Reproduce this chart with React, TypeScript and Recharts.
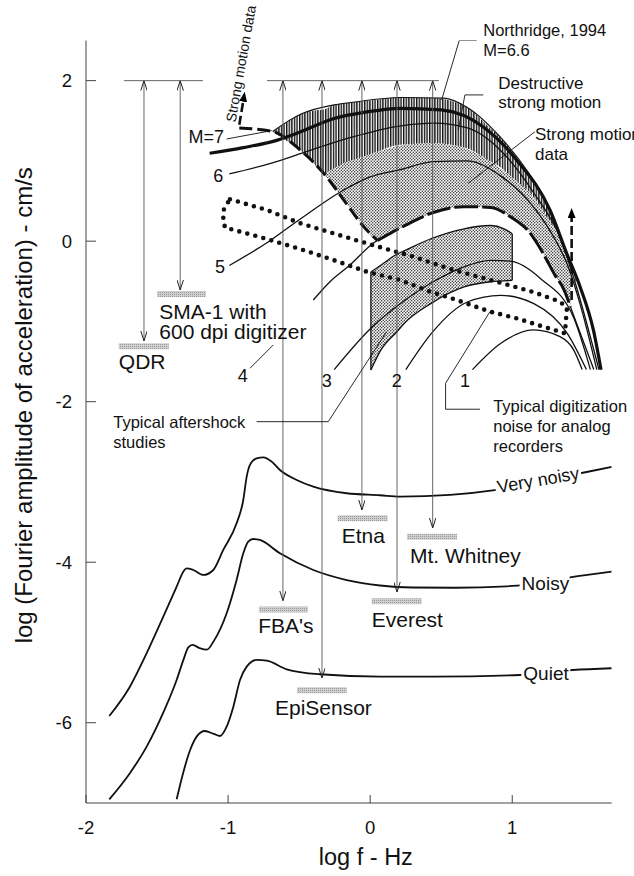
import React from 'react';
import { ComposedChart, Line, Area, XAxis, YAxis, ReferenceDot, ReferenceArea } from 'recharts';

type P = [number, number];
type B = [number, number, number];
const FONT = '"Liberation Sans", Arial, Helvetica, sans-serif';

const xTicks = [-2, -1, 0, 1];
const yTicks = [-6, -4, -2, 0, 2];

// ambient noise spectra
const veryNoisyCurve: P[] = [
  [-1.836, -5.916], [-1.691, -5.551], [-1.573, -5.134], [-1.456, -4.679], [-1.362, -4.305], [-1.315, -4.118],
  [-1.292, -4.076], [-1.245, -4.097], [-1.175, -4.159], [-1.104, -4.097], [-1.034, -3.847], [-0.94, -3.515],
  [-0.893, -3.225], [-0.869, -2.934], [-0.846, -2.788], [-0.799, -2.705], [-0.752, -2.693], [-0.693, -2.747],
  [-0.635, -2.851], [-0.517, -2.976], [-0.4, -3.059], [-0.165, -3.141], [0.069, -3.166], [0.21, -3.183],
  [0.562, -3.162], [0.89, -3.1], [1.195, -3.0], [1.524, -2.876], [1.7, -2.813],
];
const noisyCurve: P[] = [
  [-1.836, -6.954], [-1.7, -6.65], [-1.573, -6.298], [-1.45, -5.85], [-1.362, -5.467], [-1.315, -5.22],
  [-1.28, -5.06], [-1.25, -5.03], [-1.2, -5.07], [-1.15, -5.09], [-1.1, -4.98], [-1.01, -4.636],
  [-0.94, -4.221], [-0.893, -3.889], [-0.858, -3.744], [-0.823, -3.711], [-0.776, -3.723], [-0.635, -3.889],
  [-0.4, -4.097], [-0.165, -4.222], [0.069, -4.29], [0.3, -4.315], [0.6, -4.318], [0.96, -4.3],
  [1.2, -4.26], [1.406, -4.19], [1.7, -4.118],
];
const quietCurve: P[] = [
  [-1.362, -6.954], [-1.32, -6.65], [-1.267, -6.34], [-1.22, -6.17], [-1.163, -6.103], [-1.1, -6.14],
  [-1.057, -6.165], [-1.01, -6.049], [-0.963, -5.8], [-0.916, -5.467], [-0.869, -5.301], [-0.799, -5.218],
  [-0.728, -5.227], [-0.588, -5.334], [-0.353, -5.396], [0.069, -5.426], [0.444, -5.426], [1.054, -5.405],
  [1.427, -5.343], [1.7, -5.321],
];

// earthquake spectra
const m7Curve: P[] = [
  [-1.13, 1.095], [-0.893, 1.165], [-0.658, 1.256], [-0.494, 1.36], [-0.26, 1.526], [-0.025, 1.61],
  [0.216, 1.655], [0.5, 1.635], [0.801, 1.417], [1.035, 1.003], [1.267, 0.382], [1.384, -0.156],
  [1.478, -0.57], [1.571, -1.106], [1.625, -1.603],
];
const northridgeCurve: P[] = [
  [-0.686, 1.366], [-0.487, 1.583], [-0.253, 1.698], [-0.136, 1.727], [0.216, 1.79], [0.52, 1.782],
  [0.684, 1.665], [0.918, 1.292], [1.105, 0.878], [1.246, 0.464], [1.34, 0.06],
];
const m6Curve: P[] = [
  [-0.991, 0.837], [-0.7, 0.97], [-0.464, 1.106], [-0.136, 1.293], [0.216, 1.437], [0.45, 1.47],
  [0.684, 1.41], [0.918, 1.13], [1.152, 0.6], [1.34, 0.03], [1.44, -0.5], [1.61, -1.6],
];
const m5Curve: P[] = [
  [-0.991, -0.303], [-0.721, -0.013], [-0.487, 0.282], [-0.183, 0.64], [0.0, 0.8], [0.21, 0.89],
  [0.444, 0.99], [0.679, 1.0], [0.913, 0.82], [1.148, 0.43], [1.289, 0.06], [1.39, -0.3], [1.48, -0.8],
  [1.595, -1.6],
];
const m4CurveStart: P[] = [[-0.4, -0.733], [-0.283, -0.505], [-0.142, -0.297], [0.022, -0.026], [0.052, 0.009]];
const m4CurveDashed: P[] = [
  [0.052, 0.009], [0.25, 0.2], [0.45, 0.36], [0.66, 0.43], [0.85, 0.42], [0.99, 0.3], [1.13, 0.09],
  [1.2, -0.1], [1.3, -0.42], [1.363, -0.6], [1.41, -0.82],
];
const m4CurveTail: P[] = [[1.41, -0.82], [1.49, -1.2], [1.574, -1.6]];
const m3Curve: P[] = [
  [-0.253, -1.6], [0.005, -1.085], [0.216, -0.774], [0.45, -0.5], [0.661, -0.32], [0.848, -0.24],
  [0.988, -0.25], [1.2, -0.467], [1.434, -0.96], [1.55, -1.6],
];
const m2Curve: P[] = [
  [0.251, -1.6], [0.44, -1.13], [0.684, -0.758], [0.918, -0.675], [1.152, -0.778], [1.387, -1.15], [1.522, -1.6],
];
const m1Curve: P[] = [[0.72, -1.6], [0.918, -1.275], [1.148, -1.106], [1.336, -1.19], [1.434, -1.36], [1.492, -1.6]];
const strongMotionEdge: P[] = [
  [-0.921, 1.41], [-0.686, 1.366], [-0.487, 1.127], [-0.323, 0.837], [-0.183, 0.506], [-0.042, 0.174], [0.052, 0.009],
];

// shaded regions: [x, low, high]
const destructiveBand: B[] = [
  [-0.686, 1.366, 1.366], [-0.6, 1.263, 1.46], [-0.487, 1.127, 1.583], [-0.4, 0.973, 1.626], [-0.323, 0.84, 1.64],
  [-0.253, 0.908, 1.698], [-0.136, 1.0, 1.727], [0, 1.08, 1.751], [0.21, 1.2, 1.79], [0.445, 1.22, 1.784],
  [0.679, 1.157, 1.67], [0.85, 0.99, 1.4], [0.913, 0.928, 1.31], [1.0, 0.79, 1.11], [1.148, 0.554, 0.75],
  [1.246, 0.29, 0.464], [1.336, 0.05, 0.08], [1.41, -0.3, -0.27], [1.45, -0.52, -0.49],
];
const strongMotionBand: B[] = [
  [-0.323, 0.837, 0.84], [-0.25, 0.664, 0.911], [-0.183, 0.506, 0.977], [-0.1, 0.311, 1.02], [-0.042, 0.174, 1.055],
  [0.052, 0.009, 1.11], [0.25, 0.2, 1.203], [0.45, 0.36, 1.22], [0.66, 0.43, 1.162], [0.85, 0.42, 0.99],
  [0.99, 0.3, 0.805], [1.13, 0.09, 0.583], [1.2, -0.1, 0.415], [1.3, -0.42, 0.147], [1.363, -0.6, -0.078],
  [1.41, -0.82, -0.3],
];
const aftershockBand: B[] = [
  [0.005, -1.606, -0.385], [0.075, -1.358, -0.3], [0.193, -1.119, -0.157], [0.239, -1.026, -0.12],
  [0.427, -0.778, 0.03], [0.661, -0.571, 0.154], [0.848, -0.506, 0.195], [0.942, -0.495, 0.154], [1.0, -0.488, 0.092],
];

const digitizationNoiseLoop: P[] = [
  [-0.987, 0.522], [-0.728, 0.389], [-0.494, 0.224], [-0.26, 0.098], [-0.025, -0.027], [0.304, -0.193],
  [0.585, -0.359], [0.89, -0.505], [1.148, -0.633], [1.336, -0.754], [1.385, -0.832], [1.378, -0.982],
  [1.371, -1.148], [1.218, -1.065], [1.031, -0.961], [0.843, -0.878], [0.609, -0.733], [0.421, -0.629],
  [0.21, -0.483], [-0.025, -0.38], [-0.26, -0.234], [-0.494, -0.097], [-0.728, 0.027], [-0.975, 0.148],
  [-1.022, 0.168], [-1.034, 0.285], [-1.029, 0.401], [-0.987, 0.522],
];

const strongMotionArrows: P[][] = [
  [[-0.921, 1.45], [-0.893, 1.75]],
  [[1.418, -0.733], [1.418, 0.3]],
];

// instruments: clip level 2, arrow tip, noise bar [x1, x2, y]
const clipLevel = 2;
const clipLevelSpans: P[] = [[-1.733, -1.177], [-0.726, 0.484]];
const instruments = [
  { name: 'QDR', x: -1.592, tip: -1.243, bar: [-1.769, -1.417, -1.31] },
  { name: 'SMA-1', x: -1.337, tip: -0.608, bar: [-1.5, -1.156, -0.658] },
  { name: "FBA's", x: -0.614, tip: -4.479, bar: [-0.783, -0.438, -4.59] },
  { name: 'EpiSensor', x: -0.339, tip: -5.442, bar: [-0.515, -0.165, -5.596] },
  { name: 'Etna', x: -0.058, tip: -3.349, bar: [-0.229, 0.123, -3.453] },
  { name: 'Everest', x: 0.189, tip: -4.371, bar: [0.011, 0.362, -4.487] },
  { name: 'Mt. Whitney', x: 0.44, tip: -3.573, bar: [0.259, 0.611, -3.682] },
];
const barHalfHeight = 0.037;

const leaderLines: P[][] = [
  [[-1.01, 1.273], [-0.693, 1.377]],
  [[-0.846, -1.584], [-0.682, -1.293]],
  [[0.75, 2.5], [0.627, 2.5], [0.503, 1.759]],
  [[0.796, 1.822], [0.667, 1.822], [0.62, 1.386]],
  [[1.16, 1.364], [0.69, 0.721]],
  [[-0.799, -2.249], [-0.295, -2.249], [0.116, -1.128]],
  [[0.773, -2.094], [0.531, -2.094], [0.531, -1.77], [0.843, -0.878]],
];

type TL = { lines: string[]; x: number; y: number; size: number; anchor?: string; rotate?: number; bg?: number; lh?: number };
const textLabels: TL[] = [
  { lines: ['QDR'], x: -1.769, y: -1.596, size: 21 },
  { lines: ['SMA-1 with', '600 dpi digitizer'], x: -1.484, y: -0.973, size: 21, lh: 20 },
  { lines: ["FBA's"], x: -0.788, y: -4.885, size: 21 },
  { lines: ['EpiSensor'], x: -0.67, y: -5.903, size: 21 },
  { lines: ['Etna'], x: -0.2, y: -3.764, size: 21 },
  { lines: ['Mt. Whitney'], x: 0.28, y: -4.013, size: 21 },
  { lines: ['Everest'], x: 0.011, y: -4.803, size: 21 },
  { lines: ['Typical aftershock', 'studies'], x: -1.808, y: -2.322, size: 16.5, lh: 20 },
  { lines: ['Typical digitization', 'noise for analog', 'recorders'], x: 0.866, y: -2.128, size: 16.5, lh: 20 },
  { lines: ['Northridge, 1994', 'M=6.6'], x: 0.796, y: 2.552, size: 16.5, lh: 20 },
  { lines: ['Destructive', 'strong motion'], x: 0.902, y: 1.893, size: 17, lh: 19 },
  { lines: ['Strong motion', 'data'], x: 1.16, y: 1.261, size: 17, lh: 20 },
  { lines: ['M=7'], x: -1.029, y: 1.22, size: 18, anchor: 'end' },
  { lines: ['6'], x: -1.069, y: 0.741, size: 18, anchor: 'middle' },
  { lines: ['5'], x: -1.057, y: -0.392, size: 18, anchor: 'middle' },
  { lines: ['4'], x: -0.897, y: -1.75, size: 18, anchor: 'middle' },
  { lines: ['3'], x: -0.306, y: -1.813, size: 18, anchor: 'middle' },
  { lines: ['2'], x: 0.187, y: -1.813, size: 18, anchor: 'middle' },
  { lines: ['1'], x: 0.667, y: -1.813, size: 18, anchor: 'middle' },
  { lines: ['Strong motion data'], x: -0.948, y: 1.475, size: 14, rotate: -80 },
  { lines: ['Very noisy'], x: 0.902, y: -3.141, size: 18, rotate: -10, bg: 87 },
  { lines: ['Noisy'], x: 1.066, y: -4.346, size: 19, bg: 50 },
  { lines: ['Quiet'], x: 1.078, y: -5.467, size: 19, bg: 49 },
];

const toRows = (pts: P[]) => pts.map(([x, y]) => ({ x, y }));
const bandRows = (b: B[]) => b.map(([x, lo, hi]) => ({ x, v: [lo, hi] }));

const common = { dot: false, activeDot: false, isAnimationActive: false, legendType: 'none' as const };

function curve(key: string, pts: P[], o: any = {}) {
  return (
    <Line
      key={key}
      data={toRows(pts)}
      dataKey="y"
      type={o.type ?? 'monotone'}
      stroke={o.stroke ?? '#111'}
      strokeWidth={o.w ?? 1.3}
      strokeDasharray={o.dash}
      strokeLinecap={o.cap}
      markerStart={o.ms}
      markerEnd={o.me}
      {...common}
    />
  );
}

const XTick = (p: any) => (
  <g>
    <line x1={p.x} x2={p.x} y1={p.y - 17.5} y2={p.y - 25.5} stroke="#444" strokeWidth={1} />
    <text x={p.x} y={p.y} dy="0.71em" textAnchor="middle" fontFamily={FONT} fontSize={18.5} fill="#111">
      {p.payload.value}
    </text>
  </g>
);
const YTick = (p: any) => (
  <g>
    <line x1={p.x + 14} x2={p.x + 24} y1={p.y} y2={p.y} stroke="#444" strokeWidth={1} />
    <text x={p.x} y={p.y} dy="0.36em" textAnchor="end" fontFamily={FONT} fontSize={18.5} fill="#111">
      {p.payload.value}
    </text>
  </g>
);

function TextMark({ cx, cy, s }: { cx: number; cy: number; s: TL }) {
  const lh = s.lh ?? 20;
  return (
    <g transform={`translate(${cx},${cy}) rotate(${s.rotate ?? 0})`}>
      {s.bg ? <rect x={-2} y={-s.size * 0.8} width={s.bg} height={s.size * 1.05} fill="#fff" /> : null}
      <text fontFamily={FONT} fontSize={s.size} fill="#111" textAnchor={(s.anchor as any) ?? 'start'}>
        {s.lines.map((t, i) => (
          <tspan key={i} x={0} y={i * lh}>
            {t}
          </tspan>
        ))}
      </text>
    </g>
  );
}

const yTitle = (p: any) => {
  const vb = p.viewBox || { x: 26, y: 40.5, width: 60, height: 762.5 };
  const cx = vb.x + 5.5;
  const cy = vb.y + vb.height / 2 - 16.5;
  return (
    <text x={cx} y={cy} transform={`rotate(-90 ${cx} ${cy})`} textAnchor="middle" fontFamily={FONT} fontSize={24} fill="#111">
      log (Fourier amplitude of acceleration) - cm/s
    </text>
  );
};
const xTitle = (p: any) => {
  const vb = p.viewBox || { x: 86, y: 803, width: 525.7, height: 30 };
  return (
    <text x={vb.x + vb.width / 2 + 17} y={vb.y + 62} textAnchor="middle" fontFamily={FONT} fontSize={23.5} fill="#111">
      log f - Hz
    </text>
  );
};

export default function App() {
  const bandTop = (b: B[]) => b.map(([x, , hi]) => [x, hi] as P);
  const bandBottom = (b: B[]) => b.map(([x, lo]) => [x, lo] as P);
  const a0 = aftershockBand[0];
  const aN = aftershockBand[aftershockBand.length - 1];
  return (
    <div style={{ position: 'absolute', left: 0, top: 0, width: 634, height: 876, background: '#fff' }}>
      <ComposedChart width={634} height={876} margin={{ top: 40.5, right: 22.3, bottom: 43, left: 26 }}>
        <defs>
          <pattern id="hatchPat" patternUnits="userSpaceOnUse" width="2.6" height="6">
            <rect x="0" y="0" width="2.6" height="6" fill="#fff" />
            <rect x="0" y="0" width="1.4" height="6" fill="#111" />
          </pattern>
          <pattern id="stipPat" patternUnits="userSpaceOnUse" width="3" height="3">
            <rect width="3" height="3" fill="#fff" />
            <circle cx="0.75" cy="0.75" r="0.72" fill="#222" />
            <circle cx="2.25" cy="2.25" r="0.72" fill="#222" />
          </pattern>
          <pattern id="barPat" patternUnits="userSpaceOnUse" width="2" height="2">
            <rect width="2" height="2" fill="#cfcfcf" />
            <rect width="1" height="1" fill="#9a9a9a" />
          </pattern>
          <marker id="openArrow" viewBox="0 0 10 7" refX="10" refY="3.5" markerWidth="10" markerHeight="7" markerUnits="userSpaceOnUse" orient="auto-start-reverse">
            <path d="M0,0.3 L10,3.5 L0,6.7" fill="none" stroke="#222" strokeWidth="1" />
          </marker>
          <marker id="solidArrow" viewBox="0 0 10 8" refX="1" refY="4" markerWidth="10" markerHeight="8" markerUnits="userSpaceOnUse" orient="auto">
            <path d="M0,0 L10,4 L0,8 Z" fill="#000" />
          </marker>
        </defs>
        <XAxis
          type="number"
          dataKey="x"
          domain={[-2, 1.7]}
          ticks={xTicks}
          interval={0}
          allowDataOverflow
          tickSize={0}
          tickMargin={17.5}
          tick={<XTick />}
          height={30}
          stroke="#444"
          label={xTitle}
        />
        <YAxis
          type="number"
          domain={[-7, 2.5]}
          ticks={yTicks}
          interval={0}
          allowDataOverflow
          tickSize={0}
          tickMargin={14}
          tick={<YTick />}
          width={60}
          stroke="#444"
          label={yTitle}
        />

        <Area data={bandRows(destructiveBand)} dataKey="v" type="monotone" fill="url(#hatchPat)" fillOpacity={1} stroke="none" {...common} />
        <Area data={bandRows(strongMotionBand)} dataKey="v" type="monotone" fill="url(#stipPat)" fillOpacity={1} stroke="none" {...common} />
        <Area data={bandRows(aftershockBand)} dataKey="v" type="monotone" fill="url(#stipPat)" fillOpacity={1} stroke="none" {...common} />

        {curve('aTop', bandTop(aftershockBand), { w: 1.3 })}
        {curve('aBot', bandBottom(aftershockBand), { w: 1.3 })}
        {curve('aL', [[a0[0], a0[1]], [a0[0], a0[2]]], { type: 'linear', w: 1.3 })}
        {curve('aR', [[aN[0], aN[1]], [aN[0], aN[2]]], { type: 'linear', w: 1.3 })}

        {curve('vn', veryNoisyCurve, { w: 1.8 })}
        {curve('noisy', noisyCurve, { w: 1.8 })}
        {curve('quiet', quietCurve, { w: 1.8 })}

        {curve('nr', northridgeCurve, { w: 1.1 })}
        {curve('m6', m6Curve, { w: 1.3 })}
        {curve('m5', m5Curve, { w: 1.3 })}
        {curve('m4a', m4CurveStart, { w: 1.3 })}
        {curve('m4t', m4CurveTail, { w: 1.3 })}
        {curve('m3', m3Curve, { w: 1.3 })}
        {curve('m2', m2Curve, { w: 1.3 })}
        {curve('m1', m1Curve, { w: 1.3 })}
        {curve('m7', m7Curve, { w: 3.2 })}
        {curve('edge', strongMotionEdge, { w: 3, dash: '13 5' })}
        {curve('m4d', m4CurveDashed, { w: 3, dash: '24 4' })}
        {strongMotionArrows.map((a, i) => curve('sma' + i, a, { type: 'linear', w: 2.6, dash: '9 4', me: 'url(#solidArrow)' }))}

        {curve('dig', digitizationNoiseLoop, { type: 'linear', w: 4.6, dash: '0 8.3', cap: 'round' })}

        {clipLevelSpans.map(([a, b], i) =>
          curve('clip' + i, [[a, clipLevel], [b, clipLevel]], { type: 'linear', w: 0.9, stroke: '#555' })
        )}
        {instruments.map((ins) =>
          curve('arr' + ins.name, [[ins.x, clipLevel], [ins.x, ins.tip]], {
            type: 'linear',
            w: 0.9,
            stroke: '#555',
            ms: 'url(#openArrow)',
            me: 'url(#openArrow)',
          })
        )}
        {leaderLines.map((l, i) => curve('lead' + i, l, { type: 'linear', w: 0.9 }))}

        {instruments.map((ins) => (
          <ReferenceArea
            key={'bar' + ins.name}
            x1={ins.bar[0]}
            x2={ins.bar[1]}
            y1={ins.bar[2] - barHalfHeight}
            y2={ins.bar[2] + barHalfHeight}
            fill="url(#barPat)"
            fillOpacity={1}
            stroke="none"
            ifOverflow="visible"
          />
        ))}

        {textLabels.map((s, i) => (
          <ReferenceDot
            key={'t' + i}
            x={s.x}
            y={s.y}
            r={0}
            ifOverflow="visible"
            shape={(p: any) => <TextMark cx={p.cx} cy={p.cy} s={s} />}
          />
        ))}
      </ComposedChart>
    </div>
  );
}
